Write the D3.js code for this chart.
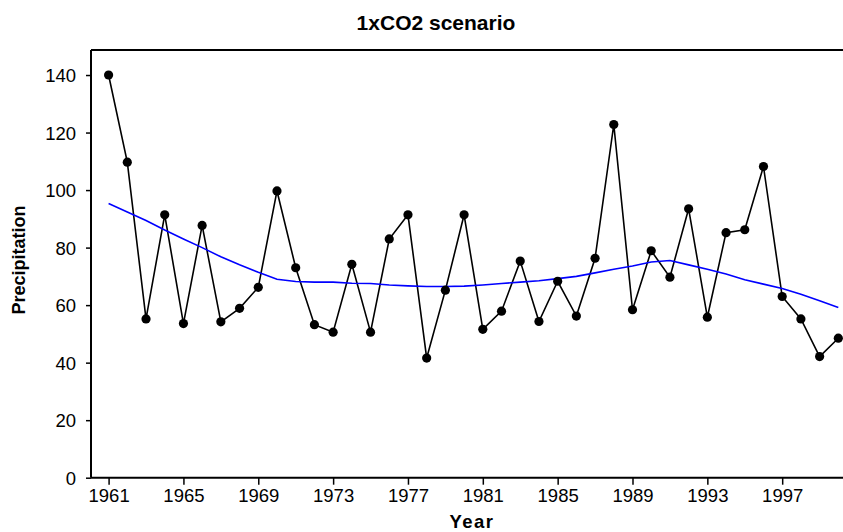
<!DOCTYPE html>
<html>
<head>
<script src="https://d3js.org/d3.v7.min.js"></script>
<style>
body { margin: 0; background: #fff; }
text { font-family: "Liberation Sans", Arial, sans-serif; fill: #000; }
</style>
</head>
<body>
<svg width="843" height="532"></svg>
<script>

const years = [1961, 1962, 1963, 1964, 1965, 1966, 1967, 1968, 1969, 1970,
               1971, 1972, 1973, 1974, 1975, 1976, 1977, 1978, 1979, 1980,
               1981, 1982, 1983, 1984, 1985, 1986, 1987, 1988, 1989, 1990,
               1991, 1992, 1993, 1994, 1995, 1996, 1997, 1998, 1999, 2000];
const precip = [140.0, 109.7, 55.2, 91.4, 53.6, 87.7, 54.2, 58.9, 66.2, 99.7,
                73.0, 53.2, 50.6, 74.2, 50.6, 83.0, 91.4, 41.6, 65.2, 91.4,
                51.6, 57.9, 75.3, 54.3, 68.3, 56.2, 76.3, 122.8, 58.4, 78.9,
                69.7, 93.5, 55.8, 85.2, 86.2, 108.2, 63.0, 55.2, 42.1, 48.5];
const trend = [95.3, 92.4, 89.4, 86.1, 83.0, 80.0, 76.8, 74.0, 71.4, 69.0,
               68.2, 68.0, 68.0, 67.6, 67.5, 67.0, 66.7, 66.5, 66.5, 66.6,
               67.0, 67.5, 68.0, 68.5, 69.2, 70.0, 71.2, 72.5, 73.6, 75.0,
               75.5, 74.0, 72.5, 70.8, 68.8, 67.3, 65.8, 63.8, 61.5, 59.2];
const xTicks = [1961, 1965, 1969, 1973, 1977, 1981, 1985, 1989, 1993, 1997];
const yTicks = [0, 20, 40, 60, 80, 100, 120, 140];

var svg = d3.select("svg"),
    plotL = 91, plotR = 843, plotT = 50, plotB = 477.7;

var x = d3.scaleLinear().domain([1960.06, 2000.25]).range([plotL, plotR]);
var y = d3.scaleLinear().domain([0, 148.7]).range([plotB, plotT]);

// frame top
svg.append("line").attr("x1", plotL).attr("x2", plotR).attr("y1", plotT).attr("y2", plotT)
    .attr("stroke", "#000").attr("stroke-width", 2);

var xAxis = svg.append("g")
    .attr("transform", "translate(0," + plotB + ")")
    .call(d3.axisBottom(x).tickValues(xTicks).tickFormat(d3.format("d")).tickSize(7).tickPadding(4));

var yAxis = svg.append("g")
    .attr("transform", "translate(" + plotL + ",0)")
    .call(d3.axisLeft(y).tickValues(yTicks).tickSize(5).tickPadding(10));

[xAxis, yAxis].forEach(function(a) {
  a.select(".domain").attr("stroke", "#000").attr("stroke-width", 2);
  a.selectAll(".tick line").attr("stroke", "#000").attr("stroke-width", 1.5);
  a.selectAll(".tick text").attr("font-size", 18.5).attr("font-family", "Liberation Sans, Arial, sans-serif").attr("fill", "#000");
});
xAxis.select(".domain").attr("d", "M" + plotL + ",0H" + plotR);
yAxis.select(".domain").attr("d", "M0," + plotT + "V" + plotB);
yAxis.selectAll(".tick text").attr("dy", "0.36em");

var pts = years.map(function(d, i) { return { year: d, v: precip[i], t: trend[i] }; });

var line = d3.line().x(function(d) { return x(d.year); }).y(function(d) { return y(d.v); });
var trendLine = d3.line().x(function(d) { return x(d.year); }).y(function(d) { return y(d.t); });

svg.append("path").datum(pts)
    .attr("d", line).attr("fill", "none").attr("stroke", "#000").attr("stroke-width", 1.6);

svg.append("path").datum(pts)
    .attr("d", trendLine).attr("fill", "none").attr("stroke", "#0000ff").attr("stroke-width", 1.6);

svg.selectAll(".dot").data(pts)
  .enter().append("circle")
    .attr("class", "dot")
    .attr("cx", function(d) { return x(d.year); })
    .attr("cy", function(d) { return y(d.v); })
    .attr("r", 4.6)
    .attr("fill", "#000");

svg.append("text")
    .attr("x", 436).attr("y", 30)
    .attr("text-anchor", "middle")
    .attr("font-size", 21).attr("font-weight", "bold")
    .text("1xCO2 scenario");

svg.append("text")
    .attr("x", 472).attr("y", 528)
    .attr("text-anchor", "middle")
    .attr("font-size", 18.5).attr("font-weight", "bold")
    .attr("letter-spacing", 1.5)
    .text("Year");

svg.append("text")
    .attr("transform", "translate(25,260) rotate(-90)")
    .attr("text-anchor", "middle")
    .attr("font-size", 18).attr("font-weight", "bold")
    .text("Precipitation");

</script>
</body>
</html>
